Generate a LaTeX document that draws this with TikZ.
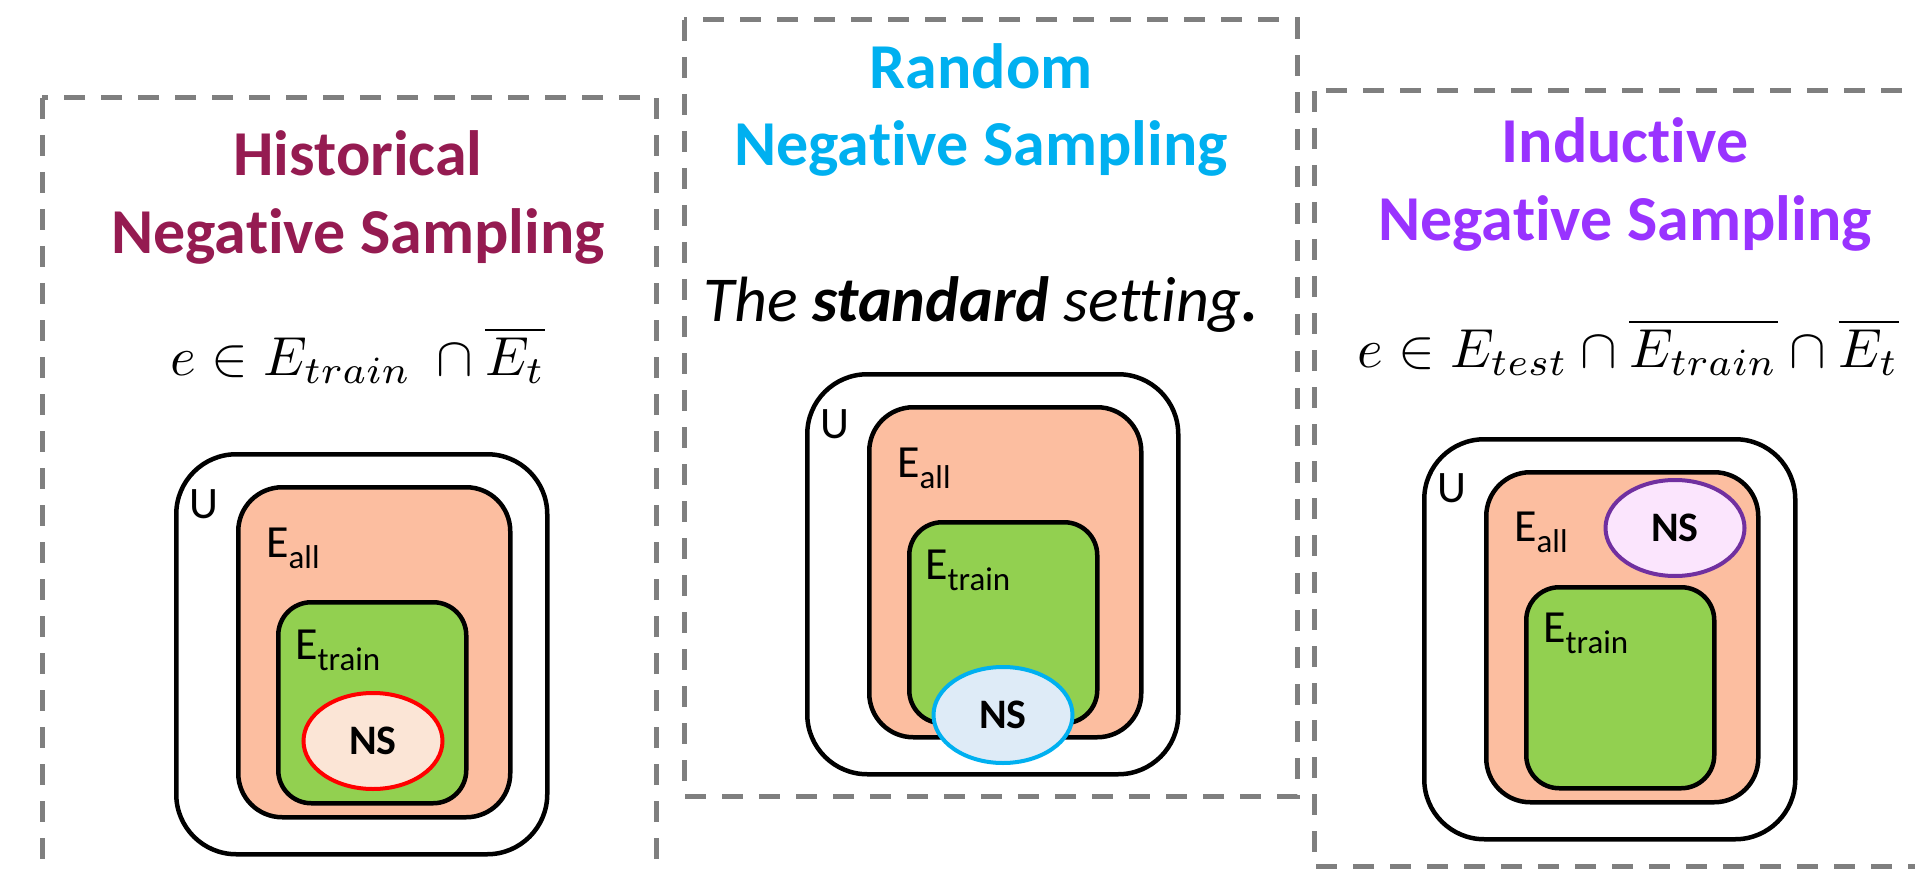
\documentclass[tikz,border=0pt]{standalone}
\usepackage{fontspec}
\usepackage{graphicx}
\setmainfont{Carlito}[Ligatures=CommonOff]
\usetikzlibrary{shapes.geometric}
\definecolor{framegray}{HTML}{7F7F7F}
\definecolor{histc}{HTML}{951B51}
\definecolor{randc}{HTML}{00B0F0}
\definecolor{inducc}{HTML}{9933FF}
\definecolor{allfill}{HTML}{FCBEA0}
\definecolor{trainfill}{HTML}{92D050}
\definecolor{nshfill}{HTML}{FBE5D6}
\definecolor{nsrfill}{HTML}{DEEBF7}
\definecolor{nsifill}{HTML}{FBE5FD}
\definecolor{nsistroke}{HTML}{7030A0}
\newcommand{\sub}[1]{\raisebox{-11pt}{\fontsize{33}{33}\selectfont #1}}
\begin{document}
\begin{tikzpicture}[x=1pt,y=-1pt,
  frame/.style={draw=framegray, line width=5pt, dash pattern=on 21pt off 16pt},
  title/.style={font=\fontsize{64}{77}\selectfont\bfseries, anchor=base, inner sep=0pt},
  formula/.style={anchor=base, inner sep=0pt},
  setbox/.style={draw=black, line width=4.5pt, anchor=north west, inner sep=0pt},
  ubox/.style={setbox, fill=white, rounded corners=60pt, minimum width=371pt, minimum height=400pt},
  allbox/.style={setbox, fill=allfill, rounded corners=44pt, minimum width=272pt, minimum height=330pt},
  trainbox/.style={setbox, fill=trainfill, rounded corners=33pt, minimum width=188pt, minimum height=201pt},
  nsell/.style={ellipse, line width=4pt, inner sep=0pt, minimum width=139pt, minimum height=96pt, font=\fontsize{42}{42}\selectfont\bfseries},
  ulabel/.style={font=\fontsize{45}{45}\selectfont, inner sep=0pt},
  elabel/.style={font=\fontsize{46}{46}\selectfont, anchor=base west, inner sep=0pt}
]
\useasboundingbox (0,0) rectangle (1915,869);
\clip (0,0) rectangle (1915,869);

% frames
\draw[frame] (42,98) rectangle (656,930);
\draw[frame] (684,20) rectangle (1297,796);
\draw[frame] (1314,91) rectangle (1980,866);

% ---------------- Historical ----------------
\node[title, text=histc] (h1) at (358,176) {Historical};
\node[title, text=histc] (h2) at (358,254) {Negative Sampling};
\node[formula] (hf) at (358,375) {\scalebox{5.5}{$e\in E_{train}\ \cap\overline{E_t}$}};
\node[ubox] (hU) at (174,452) {};
\node[allbox] (hA) at (236,485) {};
\node[trainbox] (hT) at (276,600) {};
\node[nsell, draw=red, fill=nshfill] (hNS) at (373,741) {NS};
\node[ulabel] (hUl) at (204,504) {U};
\node[elabel] (hAl) at (266,557) {E\sub{all}};
\node[elabel] (hTl) at (295,659) {E\sub{train}};

% ---------------- Random ----------------
\node[title, text=randc] (r1) at (981,89) {Random};
\node[title, text=randc] (r2) at (981,166) {Negative Sampling};
\node[font=\fontsize{64}{77}\selectfont\itshape, anchor=base, inner sep=0pt] (rs) at (981,321) {The \textbf{standard} setting\textbf{.}};
\node[ubox] (rU) at (805,372) {};
\node[allbox] (rA) at (867,405) {};
\node[trainbox] (rT) at (907,520) {};
\node[nsell, draw=randc, fill=nsrfill] (rNS) at (1003,715) {NS};
\node[ulabel] (rUl) at (835,424) {U};
\node[elabel] (rAl) at (897,477) {E\sub{all}};
\node[elabel] (rTl) at (925,579) {E\sub{train}};

% ---------------- Inductive ----------------
\node[title, text=inducc] (i1) at (1625,163) {Inductive};
\node[title, text=inducc] (i2) at (1625,241) {Negative Sampling};
\node[formula] (if) at (1628,367) {\scalebox{5.5}{$e\in E_{test}\cap\overline{E_{train}}\cap\overline{E_t}$}};
\node[ubox] (iU) at (1422,437) {};
\node[allbox] (iA) at (1484,470) {};
\node[trainbox] (iT) at (1524,585) {};
\node[nsell, draw=nsistroke, fill=nsifill] (iNS) at (1675,528) {NS};
\node[ulabel] (iUl) at (1452,488) {U};
\node[elabel] (iAl) at (1514,541) {E\sub{all}};
\node[elabel] (iTl) at (1543,642) {E\sub{train}};
\end{tikzpicture}
\end{document}
